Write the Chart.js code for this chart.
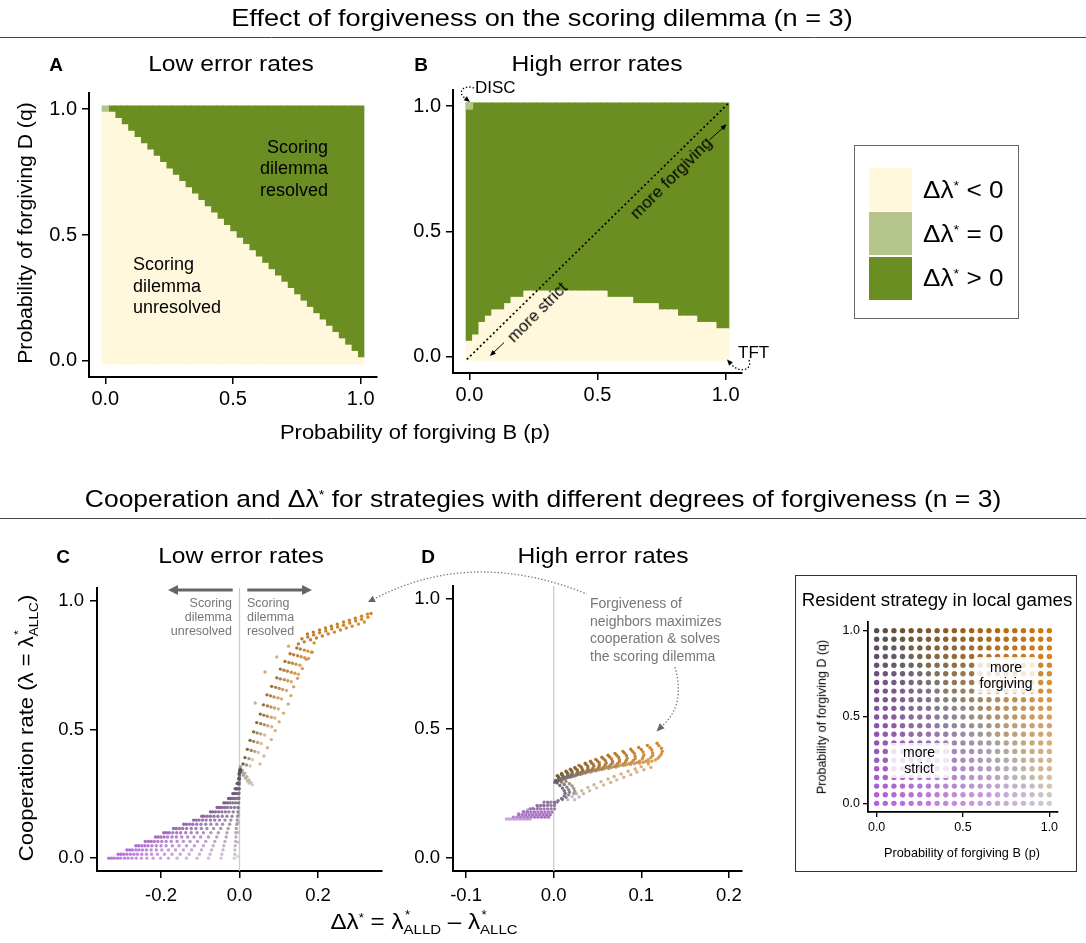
<!DOCTYPE html>
<html>
<head>
<meta charset="utf-8">
<title>Effect of forgiveness on the scoring dilemma</title>
<script src="https://cdn.jsdelivr.net/npm/chart.js@4.4.1/dist/chart.umd.min.js"></script>
<style>
  body { margin: 0; background: #fff; }
  #page { position: relative; width: 1086px; height: 943px; overflow: hidden; font-family: "Liberation Sans", Arial, Helvetica, sans-serif; color: #000; }
  #page canvas { position: absolute; }
  .t { --sx: 1; position: absolute; white-space: nowrap; line-height: 1; transform: translate(-50%, -50%) scaleX(var(--sx)); z-index: 3; }
  .l { transform-origin: 0 50%; transform: translate(0, -50%) scaleX(var(--sx)); }
  .r { transform-origin: 100% 50%; transform: translate(-100%, -50%) scaleX(var(--sx)); }
  .rot { transform: translate(-50%, -50%) rotate(-90deg) scaleX(var(--sx)); }
  .diag { transform: translate(-50%, -50%) rotate(-45deg); }
  .note { color: #777; }
  .sp { font-size: 0.55em; position: relative; top: -0.6em; }
  .st { display: inline-block; position: relative; }
  .st .a { position: absolute; left: 0.1em; top: -0.15em; font-size: 0.55em; }
  .st .b { font-size: 0.62em; position: relative; top: 0.35em; }
  .box { position: absolute; box-sizing: border-box; }
  .sw { position: absolute; left: 869px; width: 43px; height: 43px; }
  .tag { position: absolute; background: rgba(255,255,255,0.82); font-size: 14px; line-height: 16px; text-align: center; z-index: 3; }
</style>
</head>
<body>
<div id="page">
  <div class="box" style="left:854px;top:145px;width:165px;height:174px;border:1.3px solid #666"></div>
  <div class="sw" style="top:168px;background:#FFF8DC"></div>
  <div class="sw" style="top:212px;background:#B5C48A"></div>
  <div class="sw" style="top:257px;background:#6B8E23"></div>
  <div class="box" style="left:795px;top:575px;width:282px;height:297px;border:1.2px solid #333"></div>

  <canvas id="chartA"></canvas>
  <canvas id="chartB"></canvas>
  <canvas id="chartC"></canvas>
  <canvas id="chartD"></canvas>
  <canvas id="chartIn"></canvas>
  <canvas id="overlay" width="1086" height="943" style="left:0;top:0;z-index:2"></canvas>

  <div class="t" style="left:542px;top:18px;font-size:24.5px;--sx:1.11">Effect of forgiveness on the scoring dilemma (n = 3)</div>
  <div class="t" style="left:543px;top:499px;font-size:24.5px;--sx:1.08">Cooperation and Δλ<span class="sp">*</span> for strategies with different degrees of forgiveness (n = 3)</div>

  <div class="t" style="left:56px;top:64px;font-size:19px;font-weight:bold">A</div>
  <div class="t" style="left:231px;top:64px;font-size:22px;--sx:1.12">Low error rates</div>
  <div class="t" style="left:421px;top:64px;font-size:19px;font-weight:bold">B</div>
  <div class="t" style="left:597px;top:64px;font-size:22px;--sx:1.12">High error rates</div>
  <div class="t" style="left:63px;top:556px;font-size:19px;font-weight:bold">C</div>
  <div class="t" style="left:241px;top:556px;font-size:22px;--sx:1.12">Low error rates</div>
  <div class="t" style="left:428px;top:556px;font-size:19px;font-weight:bold">D</div>
  <div class="t" style="left:603px;top:556px;font-size:22px;--sx:1.12">High error rates</div>

  <div class="t rot" style="left:25px;top:233px;font-size:20px;--sx:1.06">Probability of forgiving D (q)</div>
  <div class="t" style="left:415px;top:432px;font-size:20px;--sx:1.1">Probability of forgiving B (p)</div>

  <div class="t r" style="left:328px;top:147px;font-size:18px">Scoring</div>
  <div class="t r" style="left:328px;top:168px;font-size:18px">dilemma</div>
  <div class="t r" style="left:328px;top:190px;font-size:18px">resolved</div>
  <div class="t l" style="left:133px;top:264px;font-size:18px">Scoring</div>
  <div class="t l" style="left:133px;top:286px;font-size:18px">dilemma</div>
  <div class="t l" style="left:133px;top:307px;font-size:18px">unresolved</div>

  <div class="t l" style="left:475px;top:87px;font-size:17px">DISC</div>
  <div class="t l" style="left:738px;top:352px;font-size:17px">TFT</div>
  <div class="t diag" style="left:537px;top:312px;font-size:16.5px">more strict</div>
  <div class="t diag" style="left:671px;top:178px;font-size:17px">more forgiving</div>

  <div class="t l" style="left:923px;top:190px;font-size:24px;--sx:1.09">Δλ<span class="sp">*</span> &lt; 0</div>
  <div class="t l" style="left:923px;top:234px;font-size:24px;--sx:1.09">Δλ<span class="sp">*</span> = 0</div>
  <div class="t l" style="left:923px;top:278px;font-size:24px;--sx:1.09">Δλ<span class="sp">*</span> &gt; 0</div>

  <div class="t rot" style="left:25px;top:728px;font-size:21px;--sx:1.05">Cooperation rate (λ = λ<span class="st"><span class="a">*</span><span class="b">ALLC</span></span>)</div>
  <div class="t" style="left:424px;top:922px;font-size:22px;--sx:1.1">Δλ<span class="sp">*</span> = λ<span class="st"><span class="a">*</span><span class="b">ALLD</span></span> – λ<span class="st"><span class="a">*</span><span class="b">ALLC</span></span></div>

  <div class="t r note" style="left:232px;top:603px;font-size:12.5px">Scoring</div>
  <div class="t r note" style="left:232px;top:617px;font-size:12.5px">dilemma</div>
  <div class="t r note" style="left:232px;top:631px;font-size:12.5px">unresolved</div>
  <div class="t l note" style="left:247px;top:603px;font-size:12.5px">Scoring</div>
  <div class="t l note" style="left:247px;top:617px;font-size:12.5px">dilemma</div>
  <div class="t l note" style="left:247px;top:631px;font-size:12.5px">resolved</div>

  <div class="t l note" style="left:590px;top:603px;font-size:14px">Forgiveness of</div>
  <div class="t l note" style="left:590px;top:621px;font-size:14px">neighbors maximizes</div>
  <div class="t l note" style="left:590px;top:638px;font-size:14px">cooperation &amp; solves</div>
  <div class="t l note" style="left:590px;top:656px;font-size:14px">the scoring dilemma</div>

  <div class="t" style="left:937px;top:601px;font-size:17.5px;--sx:1.07">Resident strategy in local games</div>
  <div class="t rot" style="left:822px;top:717px;font-size:12.5px">Probability of forgiving D (q)</div>
  <div class="t" style="left:962px;top:853px;font-size:12.7px">Probability of forgiving B (p)</div>
  <div class="tag" style="left:977px;top:657px;width:58px;height:36px;padding-top:2px;box-sizing:border-box">more<br>forgiving</div>
  <div class="tag" style="left:890px;top:743px;width:58px;height:35px;padding-top:1px;box-sizing:border-box">more<br>strict</div>
</div>

<script>
const FONT = '"Liberation Sans", Arial, Helvetica, sans-serif';
const CREAM = '#FFF8DC';
const NEUTRAL = '#B5C48A';
const GREEN = '#6B8E23';

// ---------- panels A & B: 41 x 41 strategy grid ----------
const gridP = [0, 0.025, 0.05, 0.075, 0.1, 0.125, 0.15, 0.175, 0.2, 0.225, 0.25, 0.275, 0.3, 0.325, 0.35, 0.375, 0.4,
  0.425, 0.45, 0.475, 0.5, 0.525, 0.55, 0.575, 0.6, 0.625, 0.65, 0.675, 0.7, 0.725, 0.75, 0.775, 0.8, 0.825, 0.85,
  0.875, 0.9, 0.925, 0.95, 0.975, 1];
const gridQ = gridP;
// number of cells (from q = 0 upwards) with delta lambda < 0, per p column
const creamRowsLow = [40, 40, 39, 38, 37, 36, 35, 34, 33, 32, 31, 30, 29, 28, 27, 26, 25, 24, 23, 22, 21, 20, 19, 18,
  17, 16, 15, 14, 13, 12, 11, 10, 9, 8, 7, 6, 5, 4, 3, 2, 1];
const creamRowsHigh = [3, 4, 6, 7, 8, 8, 9, 10, 10, 11, 11, 11, 11, 11, 11, 11, 11, 11, 11, 11, 11, 11, 10, 10, 10, 10,
  9, 9, 9, 9, 8, 8, 8, 7, 7, 7, 6, 6, 6, 5, 5];
// cells with delta lambda = 0 : [column, row]  (DISC)
const neutralLow = [[0, 40]];
const neutralHigh = [[0, 40]];
const pTicks = [0, 0.5, 1];

// ---------- panel C: low error rates ----------
const cStrictY = [0, 0.015, 0.032, 0.048, 0.065, 0.082, 0.099, 0.115, 0.132, 0.148, 0.163, 0.180, 0.197, 0.215, 0.232,
  0.251, 0.270, 0.290, 0.309, 0.328];
const cStrictX = [
  [-0.333, -0.326, -0.319, -0.311, -0.303, -0.293, -0.284, -0.274, -0.263, -0.250, -0.236, -0.220, -0.201, -0.181, -0.159, -0.135, -0.108, -0.079, -0.047, -0.013],
  [-0.309, -0.302, -0.295, -0.287, -0.278, -0.269, -0.260, -0.249, -0.237, -0.224, -0.209, -0.191, -0.172, -0.151, -0.128, -0.102, -0.075, -0.045, -0.012],
  [-0.287, -0.280, -0.273, -0.264, -0.256, -0.247, -0.237, -0.225, -0.212, -0.198, -0.181, -0.163, -0.143, -0.122, -0.097, -0.071, -0.042, -0.012],
  [-0.264, -0.257, -0.249, -0.241, -0.233, -0.223, -0.212, -0.200, -0.187, -0.171, -0.154, -0.135, -0.115, -0.092, -0.067, -0.040, -0.011],
  [-0.240, -0.232, -0.225, -0.217, -0.208, -0.198, -0.187, -0.174, -0.159, -0.143, -0.126, -0.107, -0.086, -0.063, -0.037, -0.010],
  [-0.214, -0.207, -0.200, -0.192, -0.183, -0.172, -0.161, -0.147, -0.132, -0.116, -0.099, -0.079, -0.058, -0.034, -0.009],
  [-0.193, -0.186, -0.179, -0.170, -0.160, -0.150, -0.137, -0.123, -0.108, -0.092, -0.073, -0.054, -0.032, -0.009],
  [-0.168, -0.161, -0.153, -0.145, -0.135, -0.123, -0.111, -0.097, -0.083, -0.066, -0.048, -0.029, -0.008],
  [-0.142, -0.135, -0.127, -0.119, -0.109, -0.098, -0.086, -0.073, -0.058, -0.043, -0.025, -0.007],
  [-0.117, -0.110, -0.103, -0.094, -0.085, -0.074, -0.063, -0.051, -0.037, -0.022, -0.006],
  [-0.096, -0.090, -0.082, -0.074, -0.065, -0.055, -0.044, -0.032, -0.019, -0.005],
  [-0.074, -0.068, -0.061, -0.053, -0.045, -0.036, -0.027, -0.016, -0.004],
  [-0.057, -0.051, -0.045, -0.038, -0.031, -0.022, -0.013, -0.004],
  [-0.040, -0.035, -0.030, -0.024, -0.017, -0.010, -0.003],
  [-0.028, -0.024, -0.019, -0.014, -0.008, -0.002],
  [-0.017, -0.014, -0.010, -0.006, -0.002],
  [-0.011, -0.008, -0.005, -0.001],
  [-0.006, -0.004, -0.001],
  [-0.002, -0.001],
  [-0.001]
];
// strategies with p + q = 1 (TFT at the bottom ... DISC at the top)
const cNeutralX = [-0.004, -0.003, -0.003, -0.003, -0.002, -0.002, -0.002, -0.002, -0.001, -0.001, -0.001, -0.001, 0, 0, 0,
  0, 0.001, 0.001, 0.001, 0.002, 0.002];
const cNeutralY = [0.007, 0.062, 0.100, 0.138, 0.170, 0.195, 0.215, 0.234, 0.253, 0.270, 0.285, 0.297, 0.307, 0.315,
  0.322, 0.328, 0.333, 0.337, 0.340, 0.342, 0.344];
// forgiving side (p + q > 1)
const cForgX = [
  [0.173, 0.188, 0.204, 0.219, 0.234, 0.249, 0.265, 0.280, 0.295, 0.311, 0.326, 0.335],
  [0.159, 0.174, 0.189, 0.204, 0.220, 0.235, 0.250, 0.265, 0.281, 0.296, 0.311, 0.327],
  [0.150, 0.165, 0.181, 0.196, 0.211, 0.226, 0.242, 0.257, 0.272, 0.287, 0.303, 0.318],
  [0.146, 0.155, 0.165, 0.174, 0.183],
  [0.129, 0.138, 0.148, 0.157, 0.166, 0.176],
  [0.116, 0.126, 0.135, 0.144, 0.154],
  [0.104, 0.113, 0.122, 0.132, 0.141, 0.150],
  [0.095, 0.104, 0.114, 0.123, 0.132],
  [0.082, 0.092, 0.101, 0.110, 0.120],
  [0.070, 0.079, 0.088, 0.098, 0.107],
  [0.061, 0.071, 0.080, 0.089, 0.099],
  [0.053, 0.062, 0.071, 0.081, 0.090],
  [0.044, 0.054, 0.063, 0.072, 0.082],
  [0.036, 0.045, 0.054, 0.064],
  [0.027, 0.036, 0.046, 0.055],
  [0.020, 0.030, 0.039, 0.048],
  [0.014, 0.024, 0.033],
  [0.009, 0.018, 0.027],
  [0.190, 0.185, 0.170, 0.160, 0.148, 0.138, 0.131, 0.124, 0.112, 0.101, 0.091, 0.081, 0.071, 0.062, 0.052],
  [0.125, 0.095, 0.065, 0.040],
  [0.002, 0.007, 0.013, 0.019, 0.024, 0.029, 0.033],
  [0.001, 0.005, 0.010, 0.015, 0.020, 0.025]
];
const cForgY = [
  [0.872, 0.879, 0.887, 0.895, 0.902, 0.910, 0.918, 0.925, 0.933, 0.941, 0.949, 0.951],
  [0.853, 0.860, 0.868, 0.876, 0.883, 0.891, 0.899, 0.906, 0.914, 0.922, 0.929, 0.937],
  [0.833, 0.841, 0.849, 0.856, 0.864, 0.872, 0.879, 0.887, 0.895, 0.902, 0.910, 0.918],
  [0.817, 0.813, 0.809, 0.805, 0.801],
  [0.795, 0.791, 0.787, 0.783, 0.779, 0.776],
  [0.765, 0.761, 0.758, 0.754, 0.750],
  [0.735, 0.731, 0.727, 0.723, 0.719, 0.715],
  [0.701, 0.697, 0.694, 0.690, 0.686],
  [0.668, 0.664, 0.660, 0.656, 0.652],
  [0.635, 0.631, 0.627, 0.623, 0.619],
  [0.596, 0.592, 0.588, 0.584, 0.580],
  [0.560, 0.556, 0.552, 0.548, 0.545],
  [0.527, 0.523, 0.519, 0.515, 0.511],
  [0.491, 0.487, 0.483, 0.479],
  [0.458, 0.454, 0.450, 0.446],
  [0.423, 0.419, 0.415, 0.411],
  [0.391, 0.387, 0.383],
  [0.366, 0.362, 0.358],
  [0.837, 0.801, 0.773, 0.737, 0.699, 0.666, 0.632, 0.599, 0.564, 0.530, 0.496, 0.461, 0.429, 0.397, 0.366],
  [0.824, 0.782, 0.724, 0.603],
  [0.355, 0.342, 0.330, 0.317, 0.304, 0.294, 0.285],
  [0.345, 0.334, 0.322, 0.311, 0.300, 0.291]
];
const cXTicks = [-0.2, 0, 0.2];
const coopTicks = [0, 0.5, 1];

// ---------- panel D: high error rates ----------
const dHookX = [
  [0.004, 0.005, 0.006, 0.006, 0.006, 0.005, 0.004, 0.003, 0.002, 0.001],
  [0.009, 0.009, 0.010, 0.011, 0.011, 0.010, 0.009, 0.008, 0.006, 0.005],
  [0.014, 0.015, 0.016, 0.016, 0.016, 0.015, 0.014, 0.013, 0.011, 0.009],
  [0.019, 0.020, 0.021, 0.021, 0.021, 0.020, 0.019, 0.018, 0.016, 0.014],
  [0.024, 0.025, 0.027, 0.027, 0.027, 0.026, 0.025, 0.023, 0.021, 0.019],
  [0.029, 0.031, 0.032, 0.033, 0.033, 0.031, 0.030, 0.028, 0.026, 0.024],
  [0.036, 0.037, 0.039, 0.039, 0.039, 0.038, 0.036, 0.034, 0.032, 0.030],
  [0.042, 0.043, 0.045, 0.046, 0.045, 0.044, 0.042, 0.040, 0.038, 0.036],
  [0.048, 0.050, 0.052, 0.052, 0.052, 0.051, 0.049, 0.047, 0.044, 0.042],
  [0.055, 0.057, 0.059, 0.060, 0.059, 0.058, 0.056, 0.054, 0.051, 0.048],
  [0.062, 0.064, 0.066, 0.067, 0.067, 0.065, 0.063, 0.061, 0.058, 0.055],
  [0.070, 0.072, 0.074, 0.075, 0.075, 0.073, 0.071, 0.069, 0.066, 0.063],
  [0.079, 0.081, 0.083, 0.084, 0.083, 0.082, 0.080, 0.077, 0.074, 0.071],
  [0.088, 0.090, 0.092, 0.093, 0.093, 0.091, 0.089, 0.086, 0.083, 0.080],
  [0.097, 0.100, 0.102, 0.103, 0.102, 0.101, 0.098, 0.095, 0.092, 0.088],
  [0.107, 0.110, 0.112, 0.113, 0.113, 0.111, 0.108, 0.105, 0.102, 0.098],
  [0.118, 0.120, 0.123, 0.124, 0.123, 0.121, 0.119, 0.116, 0.112, 0.108]
];
const dHookY = [
  [0.318, 0.315, 0.311, 0.307, 0.304, 0.300, 0.298, 0.296, 0.294, 0.292],
  [0.327, 0.323, 0.320, 0.315, 0.311, 0.308, 0.304, 0.302, 0.300, 0.299],
  [0.335, 0.331, 0.327, 0.322, 0.317, 0.314, 0.310, 0.307, 0.305, 0.304],
  [0.343, 0.339, 0.334, 0.328, 0.324, 0.320, 0.316, 0.313, 0.311, 0.309],
  [0.350, 0.345, 0.340, 0.334, 0.329, 0.325, 0.320, 0.317, 0.315, 0.313],
  [0.358, 0.353, 0.348, 0.341, 0.335, 0.331, 0.326, 0.323, 0.320, 0.318],
  [0.366, 0.361, 0.355, 0.348, 0.342, 0.337, 0.332, 0.328, 0.325, 0.323],
  [0.374, 0.368, 0.362, 0.355, 0.348, 0.343, 0.338, 0.334, 0.331, 0.328],
  [0.381, 0.375, 0.368, 0.360, 0.354, 0.348, 0.342, 0.338, 0.335, 0.332],
  [0.389, 0.383, 0.376, 0.367, 0.360, 0.354, 0.348, 0.344, 0.340, 0.337],
  [0.397, 0.390, 0.383, 0.374, 0.366, 0.360, 0.354, 0.349, 0.345, 0.342],
  [0.404, 0.397, 0.389, 0.380, 0.372, 0.365, 0.358, 0.353, 0.350, 0.346],
  [0.412, 0.405, 0.396, 0.386, 0.378, 0.371, 0.364, 0.359, 0.355, 0.351],
  [0.420, 0.412, 0.404, 0.393, 0.384, 0.377, 0.370, 0.364, 0.360, 0.357],
  [0.427, 0.419, 0.410, 0.399, 0.390, 0.382, 0.374, 0.369, 0.364, 0.361],
  [0.435, 0.426, 0.417, 0.406, 0.396, 0.388, 0.380, 0.374, 0.369, 0.366],
  [0.443, 0.434, 0.424, 0.412, 0.402, 0.393, 0.385, 0.379, 0.374, 0.370]
];
const dBandX = [
  [0.108, 0.100, 0.093, 0.085, 0.077, 0.069, 0.062, 0.054, 0.046, 0.039, 0.032, 0.026, 0.021, 0.016],
  [0.111, 0.103, 0.095, 0.088, 0.080, 0.072, 0.065, 0.057, 0.049, 0.041, 0.034, 0.029, 0.024]
];
const dBandY = [
  [0.363, 0.353, 0.344, 0.335, 0.325, 0.315, 0.305, 0.295, 0.283, 0.273, 0.260, 0.248, 0.237, 0.225],
  [0.350, 0.341, 0.332, 0.322, 0.312, 0.302, 0.292, 0.282, 0.271, 0.260, 0.248, 0.236, 0.225]
];
const dRibbonX = [
  [0.002, 0.004, 0.007, 0.010, 0.012, 0.013, 0.012, 0.009, 0.005, 0.001],
  [0.006, 0.009, 0.012, 0.015, 0.017, 0.018, 0.017, 0.014, 0.010],
  [0.010, 0.014, 0.018, 0.021, 0.023, 0.024, 0.023],
  [-0.040, -0.035, -0.030, -0.024, -0.018, -0.012, -0.006]
];
const dRibbonY = [
  [0.300, 0.290, 0.280, 0.270, 0.260, 0.250, 0.240, 0.230, 0.221, 0.213],
  [0.302, 0.293, 0.284, 0.274, 0.264, 0.254, 0.244, 0.235, 0.226],
  [0.305, 0.296, 0.287, 0.278, 0.268, 0.258, 0.249],
  [0.172, 0.180, 0.186, 0.192, 0.198, 0.204, 0.212]
];
const dStrictY = [0.151, 0.158, 0.167, 0.178, 0.190, 0.203, 0.216];
const dStrictX = [
  [-0.054, -0.051, -0.048, -0.045, -0.042, -0.039, -0.036, -0.033, -0.030, -0.027],
  [-0.046, -0.042, -0.038, -0.034, -0.030, -0.026, -0.022, -0.018, -0.014, -0.010, -0.006],
  [-0.040, -0.036, -0.032, -0.028, -0.024, -0.020, -0.016, -0.012, -0.008, -0.004],
  [-0.034, -0.030, -0.026, -0.022, -0.018, -0.014, -0.010, -0.006, -0.002],
  [-0.027, -0.023, -0.019, -0.015, -0.011, -0.007, -0.003, 0.001],
  [-0.019, -0.015, -0.011, -0.007, -0.003, 0.001],
  [-0.011, -0.007, -0.003, 0.001, 0.004]
];
const dXTicks = [-0.1, 0, 0.1, 0.2];

// ---------- inset: resident strategy grid ----------
const insetP = [0, 0.05, 0.1, 0.15, 0.2, 0.25, 0.3, 0.35, 0.4, 0.45, 0.5, 0.55, 0.6, 0.65, 0.7, 0.75, 0.8, 0.85, 0.9, 0.95, 1];
const insetQ = insetP;

// ---------- styles ----------
// colour ramps along each chain: [p start, q start, p end, q end]
const cForgTone = [
  [0.72, 1, 1, 1], [0.70, 0.96, 1, 0.96], [0.66, 0.9, 1, 0.88],
  [0.66, 1, 1, 0.66], [0.62, 1, 1, 0.62], [0.58, 1, 1, 0.58], [0.54, 1, 1, 0.54], [0.50, 1, 1, 0.50],
  [0.46, 1, 1, 0.46], [0.42, 1, 1, 0.42], [0.38, 1, 1, 0.38], [0.34, 1, 1, 0.34], [0.30, 1, 1, 0.30],
  [0.26, 1, 1, 0.26], [0.22, 1, 1, 0.22], [0.18, 1, 1, 0.18], [0.14, 1, 1, 0.14], [0.10, 1, 1, 0.10],
  [1, 0.85, 1, 0.25], [1, 0.45, 1, 0.45], [0.55, 0.5, 1, 0.08], [0.45, 0.6, 0.95, 0.1]
];
const dBandTone = [[1, 0.5, 0.85, 0.18], [0.95, 0.4, 0.8, 0.12]];
const dRibbonTone = [[0.12, 0.9, 0.2, 0.62], [0.3, 0.8, 0.35, 0.5], [0.45, 0.72, 0.55, 0.42], [0.75, 0.12, 0.6, 0.3]];
const dStrictTone = [[0.65, 0.05, 0.55, 0.1], [0.15, 0.12, 0.1, 0.25], [0.1, 0.2, 0.12, 0.3], [0.12, 0.3, 0.2, 0.35],
  [0.15, 0.4, 0.25, 0.42], [0.2, 0.5, 0.3, 0.5], [0.25, 0.55, 0.35, 0.55]];
const DOT = 1.7;

// bivariate palette: purple = strict, orange = forgiving, grey on p + q = 1
function tone(p, q, a) {
  const s = p + q - 1, d = p - q;
  const g = 142 + 62.5 * d;
  const hue = s < 0 ? [38, -47, 83] : [68, -22, -132];
  const k = Math.pow(Math.abs(s), 0.7);
  const c = hue.map(h => Math.round(Math.min(255, Math.max(0, g + k * h))));
  return `rgba(${c[0]},${c[1]},${c[2]},${a})`;
}

function ramp(n, t4, i) {
  const t = n > 1 ? i / (n - 1) : 0;
  return tone(t4[0] + (t4[2] - t4[0]) * t, t4[1] + (t4[3] - t4[1]) * t, 0.9);
}

function chainSets(xs, ys, tones, r) {
  return xs.map((xa, k) => ({
    data: xa.map((x, i) => ({ x, y: Array.isArray(ys[k]) ? ys[k][i] : ys[k] })),
    pointBackgroundColor: xa.map((_, i) => ramp(xa.length, tones[k], i)),
    pointRadius: r, pointHoverRadius: r, pointBorderWidth: 0
  }));
}

function axis(min, max, ticks, o) {
  return {
    type: 'linear', min, max, bounds: 'data', offset: false,
    afterBuildTicks: s => { s.ticks = ticks.map(v => ({ value: v })); },
    afterFit: s => { if (s.isHorizontal()) s.height = o.fit; else s.width = o.fit; },
    grid: { drawOnChartArea: false, drawTicks: true, tickLength: o.tick, color: '#000', lineWidth: o.lw, offset: false },
    border: { display: true, color: '#000', width: o.bw },
    ticks: { color: '#000', padding: o.pad, autoSkip: false, maxRotation: 0,
      font: { family: FONT, size: o.size }, callback: v => v.toFixed(1) }
  };
}

// put a canvas so that its chart area lands on [left, top, right, bottom]
function place(id, area, yW, xH) {
  const cv = document.getElementById(id);
  const padT = 14, padR = 16;
  cv.width = area[2] - area[0] + yW + padR;
  cv.height = area[3] - area[1] + padT + xH;
  cv.style.left = (area[0] - yW) + 'px';
  cv.style.top = (area[1] - padT) + 'px';
  return { cv, padding: { top: padT, right: padR, left: 0, bottom: 0 } };
}

const common = { responsive: false, animation: false, events: [],
  plugins: { legend: { display: false }, tooltip: { enabled: false } } };

function heatBars(creamRows, neutralCells) {
  const half = 0.0125, step = 0.025;
  const cream = [], neutral = [], green = [];
  gridP.forEach((p, i) => {
    const top = creamRows[i] * step - half;
    cream.push({ x: p, y: [-half, top] });
    let from = top;
    neutralCells.filter(c => c[0] === i).forEach(c => {
      const lo = gridQ[c[1]] - half, hi = gridQ[c[1]] + half;
      neutral.push({ x: p, y: [lo, hi] });
      if (lo <= from + 1e-9) from = Math.max(from, hi);
    });
    if (from < 1 + half - 1e-9) green.push({ x: p, y: [from, 1 + half] });
  });
  const bar = { barPercentage: 1, categoryPercentage: 1, grouped: false, borderWidth: 0, inflateAmount: 0.5 };
  return [
    Object.assign({ data: cream, backgroundColor: CREAM }, bar),
    Object.assign({ data: neutral, backgroundColor: NEUTRAL }, bar),
    Object.assign({ data: green, backgroundColor: GREEN }, bar)
  ];
}

function heatChart(id, area, creamRows, neutralCells, extra) {
  const { cv, padding } = place(id, area, 60, 46);
  const o = { fit: 0, tick: 7, lw: 1.5, bw: 2, size: 20 };
  return new Chart(cv, {
    type: 'bar',
    data: { datasets: heatBars(creamRows, neutralCells) },
    options: Object.assign({}, common, {
      layout: { padding },
      scales: {
        x: axis(-0.064, 1.064, pTicks, Object.assign({}, o, { fit: 46, pad: 3 })),
        y: axis(-0.064, 1.064, pTicks, Object.assign({}, o, { fit: 60, pad: 5 }))
      }
    }),
    plugins: extra ? [extra] : []
  });
}

function head(ctx, x, y, ang, len, wid, color) {
  ctx.save();
  ctx.translate(x, y); ctx.rotate(ang);
  ctx.beginPath(); ctx.moveTo(0, 0); ctx.lineTo(-len, -wid / 2); ctx.lineTo(-len, wid / 2); ctx.closePath();
  ctx.fillStyle = color; ctx.fill();
  ctx.restore();
}

function arrow(ctx, x0, y0, x1, y1, color, lw, len, wid) {
  const ang = Math.atan2(y1 - y0, x1 - x0);
  ctx.strokeStyle = color; ctx.lineWidth = lw;
  ctx.beginPath(); ctx.moveTo(x0, y0);
  ctx.lineTo(x1 - Math.cos(ang) * len * 0.8, y1 - Math.sin(ang) * len * 0.8);
  ctx.stroke();
  head(ctx, x1, y1, ang, len, wid, color);
}

const diagonalNotes = {
  id: 'diagonalNotes',
  afterDatasetsDraw(chart) {
    const { ctx } = chart, x = chart.scales.x, y = chart.scales.y;
    ctx.save();
    ctx.strokeStyle = '#000'; ctx.lineWidth = 1.7; ctx.setLineDash([2, 2.6]);
    ctx.beginPath();
    ctx.moveTo(x.getPixelForValue(-0.01), y.getPixelForValue(-0.01));
    ctx.lineTo(x.getPixelForValue(1.01), y.getPixelForValue(1.01));
    ctx.stroke();
    ctx.setLineDash([]);
    arrow(ctx, x.getPixelForValue(0.135), y.getPixelForValue(0.057), x.getPixelForValue(0.08), y.getPixelForValue(0.004), '#000', 1, 6, 5);
    arrow(ctx, x.getPixelForValue(0.938), y.getPixelForValue(0.866), x.getPixelForValue(1.004), y.getPixelForValue(0.927), '#000', 1, 6, 5);
    ctx.restore();
  }
};

const zeroLine = {
  id: 'zeroLine',
  beforeDatasetsDraw(chart) {
    const { ctx, chartArea } = chart, px = chart.scales.x.getPixelForValue(0);
    ctx.save();
    ctx.strokeStyle = '#cdcdcd'; ctx.lineWidth = 1.3;
    ctx.beginPath(); ctx.moveTo(px, chartArea.top); ctx.lineTo(px, chartArea.bottom); ctx.stroke();
    ctx.restore();
  }
};

function scatterChart(id, area, xRange, xTicks, sets) {
  const { cv, padding } = place(id, area, 60, 46);
  const o = { fit: 0, tick: 7, lw: 1.5, bw: 2, size: 18.5 };
  return new Chart(cv, {
    type: 'scatter',
    data: { datasets: sets },
    options: Object.assign({}, common, {
      layout: { padding },
      scales: {
        x: axis(xRange[0], xRange[1], xTicks, Object.assign({}, o, { fit: 46, pad: 7 })),
        y: axis(-0.05, 1.05, coopTicks, Object.assign({}, o, { fit: 60, pad: 6 }))
      }
    }),
    plugins: [zeroLine]
  });
}

// ---- A & B ----
heatChart('chartA', [89, 90, 377, 377], creamRowsLow, neutralLow);
heatChart('chartB', [453, 87, 742, 373], creamRowsHigh, neutralHigh, diagonalNotes);

// ---- C ----
const cSets = [];
cStrictX.forEach((xa, b) => {
  cSets.push({
    data: xa.map(x => ({ x, y: cStrictY[b] })),
    pointBackgroundColor: xa.map((_, a) => tone(a * 0.05, b * 0.05, 0.9)),
    pointRadius: DOT, pointHoverRadius: DOT, pointBorderWidth: 0
  });
});
cSets.push({
  data: cNeutralX.map((x, i) => ({ x, y: cNeutralY[i] })),
  pointBackgroundColor: cNeutralX.map((_, i) => tone(1 - i * 0.05, i * 0.05, 0.9)),
  pointRadius: DOT, pointHoverRadius: DOT, pointBorderWidth: 0
});
chainSets(cForgX, cForgY, cForgTone, DOT).forEach(s => cSets.push(s));
scatterChart('chartC', [97, 585, 382, 871], [-0.363, 0.363], cXTicks, cSets);

// ---- D ----
const dSets = []
  .concat(chainSets(dStrictX, dStrictY, dStrictTone, DOT))
  .concat(chainSets(dRibbonX, dRibbonY, dRibbonTone, DOT))
  .concat(chainSets(dBandX, dBandY, dBandTone, DOT))
  .concat(chainSets(dHookX, dHookY, dHookX.map((_, j) => [0.2 + 0.05 * j, 1, 0.2 + 0.05 * j, 0.55]), DOT));
scatterChart('chartD', [453, 583, 742, 871], [-0.115, 0.215], dXTicks, dSets);

// ---- inset ----
(function () {
  const { cv, padding } = place('chartIn', [868, 622, 1058, 812], 40, 30);
  const pts = [], cols = [];
  insetQ.forEach(q => insetP.forEach(p => { pts.push({ x: p, y: q }); cols.push(tone(p, q, 1)); }));
  const o = { fit: 0, tick: 5, lw: 1.3, bw: 1.8, size: 12.5 };
  new Chart(cv, {
    type: 'scatter',
    data: { datasets: [{ data: pts, pointBackgroundColor: cols, pointRadius: 2.7, pointHoverRadius: 2.7, pointBorderWidth: 0 }] },
    options: Object.assign({}, common, {
      layout: { padding },
      scales: {
        x: axis(-0.05, 1.05, pTicks, Object.assign({}, o, { fit: 30, pad: 3 })),
        y: axis(-0.05, 1.05, pTicks, Object.assign({}, o, { fit: 40, pad: 3 }))
      }
    })
  });
})();

// ---- rules and cross-panel arrows ----
(function () {
  const g = document.getElementById('overlay').getContext('2d');
  g.strokeStyle = '#444'; g.lineWidth = 1;
  g.beginPath(); g.moveTo(0, 37.5); g.lineTo(1086, 37.5); g.moveTo(0, 518.5); g.lineTo(1086, 518.5); g.stroke();

  // DISC / TFT pointers
  g.setLineDash([1.4, 2]); g.strokeStyle = '#000'; g.lineWidth = 1.3;
  g.beginPath(); g.moveTo(474, 88); g.bezierCurveTo(463, 84, 457, 93, 465, 98); g.stroke();
  head(g, 470, 102, Math.atan2(4, 5), 6, 5, '#000');
  g.beginPath(); g.moveTo(749, 360); g.bezierCurveTo(753, 371, 738, 373, 731, 364); g.stroke();
  head(g, 727, 359.5, Math.atan2(-4.5, -4), 6, 5, '#000');

  // C -> D dotted arc and the D pointer
  g.strokeStyle = '#777'; g.lineWidth = 1.3;
  g.beginPath(); g.moveTo(376, 598); g.quadraticCurveTo(473, 548, 587, 594); g.stroke();
  head(g, 368, 602, Math.atan2(4, -8), 7, 7, '#666');
  g.beginPath(); g.moveTo(675, 667); g.quadraticCurveTo(686, 706, 661, 727); g.stroke();
  head(g, 656.5, 731.5, Math.atan2(4.5, -4.5), 8, 7, '#666');

  // scoring dilemma arrows in C
  g.setLineDash([]);
  arrow(g, 232.7, 590, 168, 590, '#666', 2.8, 10, 10);
  arrow(g, 247.3, 590, 312, 590, '#666', 2.8, 10, 10);
})();
</script>
</body>
</html>
